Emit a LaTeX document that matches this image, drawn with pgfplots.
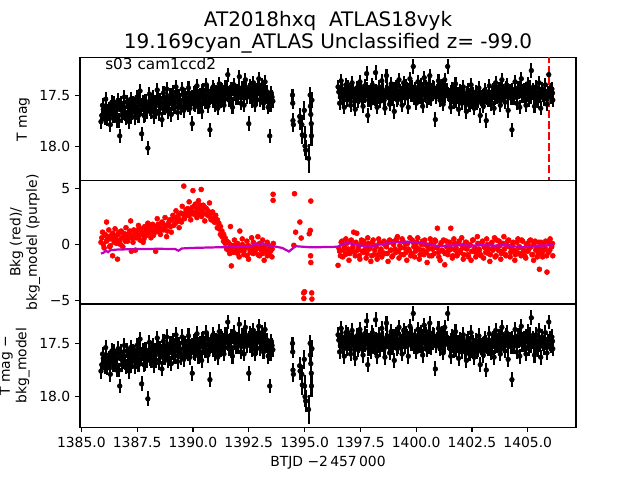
\documentclass[border=0pt]{standalone}
\usepackage{fontspec}
\setmainfont{DejaVu Sans}
\usepackage{pgfplots}
\usepackage{pgfplotstable}
\pgfplotsset{compat=1.18}

% light curve, T mag (segments before and after the gap)
\pgfplotstableread{
t m
1385.88 17.76
1385.95 17.60
1386.02 17.68
1386.09 17.54
1386.16 17.73
1386.23 17.64
1386.30 17.79
1386.37 17.57
1386.44 17.70
1386.51 17.62
1386.58 17.75
1386.65 17.55
1386.72 17.90
1386.79 17.58
1386.86 17.67
1386.93 17.52
1387.00 17.72
1387.07 17.61
1387.14 17.76
1387.21 17.54
1387.28 17.67
1387.35 17.59
1387.42 17.72
1387.49 17.52
1387.56 17.70
1387.63 17.46
1387.70 17.88
1387.77 17.57
1387.84 17.69
1387.91 17.60
1387.98 18.02
1388.05 17.49
1388.12 17.66
1388.19 17.52
1388.26 17.71
1388.33 17.58
1388.40 17.45
1388.47 17.68
1388.54 17.55
1388.61 17.74
1388.68 17.48
1388.75 17.63
1388.82 17.44
1388.89 17.66
1388.96 17.53
1389.03 17.69
1389.10 17.47
1389.17 17.62
1389.24 17.42
1389.31 17.67
1389.38 17.51
1389.45 17.60
1389.52 17.44
1389.59 17.65
1389.66 17.50
1389.73 17.58
1389.80 17.43
1389.87 17.63
1389.97 17.78
1390.04 17.48
1390.11 17.60
1390.18 17.41
1390.25 17.62
1390.32 17.50
1390.39 17.66
1390.46 17.45
1390.53 17.57
1390.60 17.40
1390.67 17.61
1390.76 17.84
1390.83 17.52
1390.90 17.42
1390.97 17.60
1391.04 17.47
1391.11 17.63
1391.18 17.39
1391.25 17.56
1391.32 17.45
1391.39 17.60
1391.46 17.42
1391.56 17.30
1391.63 17.55
1391.70 17.44
1391.77 17.62
1391.84 17.40
1391.91 17.53
1391.98 17.46
1392.08 17.32
1392.15 17.58
1392.22 17.43
1392.29 17.60
1392.35 17.35
1392.42 17.52
1392.50 17.78
1392.57 17.41
1392.64 17.56
1392.71 17.38
1392.78 17.60
1392.85 17.45
1392.95 17.34
1393.02 17.55
1393.09 17.40
1393.16 17.58
1393.23 17.37
1393.30 17.52
1393.37 17.62
1393.44 17.90
1393.51 17.48
1393.58 17.56
1396.50 17.42
1396.57 17.58
1396.64 17.36
1396.71 17.50
1396.78 17.62
1396.85 17.40
1396.92 17.55
1396.99 17.45
1397.06 17.60
1397.13 17.38
1397.20 17.52
1397.27 17.64
1397.34 17.43
1397.41 17.56
1397.48 17.37
1397.55 17.50
1397.62 17.61
1397.69 17.41
1397.78 17.29
1397.83 17.70
1397.90 17.47
1397.97 17.58
1398.04 17.40
1398.11 17.53
1398.18 17.28
1398.25 17.62
1398.32 17.44
1398.39 17.56
1398.46 17.36
1398.53 17.51
1398.60 17.63
1398.67 17.31
1398.74 17.48
1398.81 17.59
1398.88 17.39
1398.95 17.52
1399.02 17.66
1399.09 17.42
1399.16 17.55
1399.23 17.35
1399.30 17.49
1399.37 17.60
1399.44 17.38
1399.51 17.53
1399.58 17.44
1399.65 17.62
1399.72 17.34
1399.79 17.50
1399.87 17.22
1399.94 17.45
1400.01 17.58
1400.08 17.37
1400.15 17.52
1400.22 17.40
1400.29 17.61
1400.36 17.33
1400.43 17.48
1400.50 17.56
1400.57 17.39
1400.61 17.31
1400.68 17.54
1400.75 17.42
1400.86 17.74
1400.93 17.47
1401.00 17.36
1401.07 17.55
1401.14 17.41
1401.21 17.59
1401.28 17.35
1401.41 17.22
1401.48 17.50
1401.55 17.62
1401.62 17.44
1401.69 17.57
1401.76 17.39
1401.83 17.52
1401.90 17.64
1401.97 17.46
1402.04 17.58
1402.11 17.42
1402.18 17.55
1402.25 17.66
1402.32 17.45
1402.39 17.60
1402.46 17.40
1402.53 17.53
1402.60 17.63
1402.67 17.47
1402.74 17.58
1402.81 17.43
1402.87 17.70
1402.94 17.52
1403.01 17.61
1403.08 17.45
1403.14 17.75
1403.21 17.55
1403.28 17.41
1403.35 17.59
1403.42 17.48
1403.49 17.63
1403.56 17.38
1403.63 17.52
1403.70 17.44
1403.77 17.60
1403.84 17.35
1403.91 17.50
1403.98 17.57
1404.05 17.40
1404.12 17.65
1404.19 17.46
1404.29 17.84
1404.36 17.53
1404.43 17.37
1404.50 17.58
1404.57 17.43
1404.64 17.62
1404.71 17.34
1404.78 17.51
1404.85 17.45
1404.92 17.60
1404.99 17.39
1405.06 17.55
1405.16 17.26
1405.23 17.48
1405.30 17.61
1405.37 17.42
1405.44 17.56
1405.51 17.38
1405.58 17.63
1405.65 17.47
1405.72 17.54
1405.79 17.40
1405.86 17.59
1405.94 17.30
1406.01 17.50
1406.08 17.44
1406.12 17.55
}\lc

% the cadences in between (core of the band)
\pgfplotstableread[row sep=\\]{
t m\\
1385.915 17.70\\ 1385.985 17.64\\ 1386.055 17.72\\ 1386.125 17.61\\ 1386.195 17.66\\ 1386.265 17.73\\ 1386.335 17.62\\ 1386.405 17.68\\
1386.475 17.58\\ 1386.545 17.69\\ 1386.615 17.64\\ 1386.685 17.75\\ 1386.755 17.60\\ 1386.825 17.70\\ 1386.895 17.63\\ 1386.965 17.68\\
1387.035 17.57\\ 1387.105 17.67\\ 1387.175 17.62\\ 1387.245 17.71\\ 1387.315 17.58\\ 1387.385 17.65\\ 1387.455 17.61\\ 1387.525 17.68\\
1387.595 17.55\\ 1387.665 17.64\\ 1387.735 17.60\\ 1387.805 17.70\\ 1387.875 17.56\\ 1387.945 17.66\\ 1388.015 17.59\\ 1388.085 17.64\\
1388.155 17.55\\ 1388.225 17.62\\ 1388.295 17.57\\ 1388.365 17.66\\ 1388.435 17.53\\ 1388.505 17.61\\ 1388.575 17.58\\ 1388.645 17.63\\
1388.715 17.52\\ 1388.785 17.60\\ 1388.855 17.56\\ 1388.925 17.64\\ 1388.995 17.50\\ 1389.065 17.59\\ 1389.135 17.54\\ 1389.205 17.62\\
1389.275 17.51\\ 1389.345 17.58\\ 1389.415 17.55\\ 1389.485 17.63\\ 1389.555 17.49\\ 1389.625 17.57\\ 1389.695 17.53\\ 1389.765 17.60\\
1389.835 17.48\\ 1389.905 17.56\\ 1389.975 17.52\\ 1390.045 17.59\\ 1390.115 17.47\\ 1390.185 17.55\\ 1390.255 17.51\\ 1390.325 17.58\\
1390.395 17.46\\ 1390.465 17.54\\ 1390.535 17.50\\ 1390.605 17.57\\ 1390.675 17.46\\ 1390.745 17.53\\ 1390.815 17.49\\ 1390.885 17.56\\
1390.955 17.45\\ 1391.025 17.52\\ 1391.095 17.48\\ 1391.165 17.55\\ 1391.235 17.44\\ 1391.305 17.51\\ 1391.375 17.47\\ 1391.445 17.54\\
1391.515 17.43\\ 1391.585 17.50\\ 1391.655 17.47\\ 1391.725 17.54\\ 1391.795 17.44\\ 1391.865 17.49\\ 1391.935 17.46\\ 1392.005 17.53\\
1392.075 17.43\\ 1392.145 17.50\\ 1392.215 17.46\\ 1392.285 17.53\\ 1392.355 17.42\\ 1392.425 17.49\\ 1392.495 17.45\\ 1392.565 17.52\\
1392.635 17.43\\ 1392.705 17.50\\ 1392.775 17.46\\ 1392.845 17.54\\ 1392.915 17.42\\ 1392.985 17.49\\ 1393.055 17.45\\ 1393.125 17.52\\
1393.195 17.44\\ 1393.265 17.50\\ 1393.335 17.47\\ 1393.405 17.55\\ 1393.475 17.60\\ 1393.545 17.52\\
1396.535 17.47\\ 1396.605 17.52\\ 1396.675 17.44\\ 1396.745 17.55\\ 1396.815 17.46\\ 1396.885 17.50\\ 1396.955 17.42\\ 1397.025 17.53\\
1397.095 17.47\\ 1397.165 17.44\\ 1397.235 17.56\\ 1397.305 17.49\\ 1397.375 17.45\\ 1397.445 17.52\\ 1397.515 17.43\\ 1397.585 17.54\\
1397.655 17.48\\ 1397.725 17.51\\ 1397.795 17.44\\ 1397.865 17.55\\ 1397.935 17.47\\ 1398.005 17.50\\ 1398.075 17.43\\ 1398.145 17.54\\
1398.215 17.46\\ 1398.285 17.52\\ 1398.355 17.42\\ 1398.425 17.50\\ 1398.495 17.45\\ 1398.565 17.55\\ 1398.635 17.47\\ 1398.705 17.43\\
1398.775 17.52\\ 1398.845 17.46\\ 1398.915 17.54\\ 1398.985 17.44\\ 1399.055 17.49\\ 1399.125 17.42\\ 1399.195 17.53\\ 1399.265 17.46\\
1399.335 17.51\\ 1399.405 17.43\\ 1399.475 17.48\\ 1399.545 17.41\\ 1399.615 17.52\\ 1399.685 17.45\\ 1399.755 17.49\\ 1399.825 17.42\\
1399.895 17.53\\ 1399.965 17.44\\ 1400.035 17.50\\ 1400.105 17.42\\ 1400.175 17.47\\ 1400.245 17.54\\ 1400.315 17.44\\ 1400.385 17.50\\
1400.455 17.42\\ 1400.525 17.47\\ 1400.595 17.53\\ 1400.665 17.45\\ 1400.735 17.49\\ 1400.805 17.43\\ 1400.875 17.52\\ 1400.945 17.46\\
1401.015 17.50\\ 1401.085 17.43\\ 1401.155 17.48\\ 1401.225 17.42\\ 1401.295 17.51\\ 1401.365 17.45\\ 1401.435 17.49\\ 1401.505 17.54\\
1401.575 17.47\\ 1401.645 17.52\\ 1401.715 17.46\\ 1401.785 17.56\\ 1401.855 17.49\\ 1401.925 17.53\\ 1401.995 17.47\\ 1402.065 17.55\\
1402.135 17.50\\ 1402.205 17.58\\ 1402.275 17.48\\ 1402.345 17.54\\ 1402.415 17.51\\ 1402.485 17.57\\ 1402.555 17.49\\ 1402.625 17.55\\
1402.695 17.50\\ 1402.765 17.56\\ 1402.835 17.48\\ 1402.905 17.54\\ 1402.975 17.51\\ 1403.045 17.57\\ 1403.115 17.49\\ 1403.185 17.53\\
1403.255 17.47\\ 1403.325 17.55\\ 1403.395 17.50\\ 1403.465 17.45\\ 1403.535 17.53\\ 1403.605 17.47\\ 1403.675 17.51\\ 1403.745 17.44\\
1403.815 17.52\\ 1403.885 17.46\\ 1403.955 17.50\\ 1404.025 17.43\\ 1404.095 17.52\\ 1404.165 17.47\\ 1404.235 17.53\\ 1404.305 17.45\\
1404.375 17.50\\ 1404.445 17.44\\ 1404.515 17.52\\ 1404.585 17.47\\ 1404.655 17.43\\ 1404.725 17.51\\ 1404.795 17.46\\ 1404.865 17.53\\
1404.935 17.44\\ 1405.005 17.49\\ 1405.075 17.42\\ 1405.145 17.52\\ 1405.215 17.45\\ 1405.285 17.50\\ 1405.355 17.43\\ 1405.425 17.53\\
1405.495 17.47\\ 1405.565 17.51\\ 1405.635 17.44\\ 1405.705 17.50\\ 1405.775 17.46\\ 1405.845 17.54\\ 1405.915 17.48\\ 1405.985 17.45\\
1406.055 17.52\\ 1406.105 17.48\\
}\lcx

% short segment in the middle, larger errors
\pgfplotstableread{
t m e
1394.46 17.50 0.06
1394.47 17.58 0.06
1394.48 17.75 0.07
1394.50 17.79 0.07
1394.78 17.71 0.08
1394.80 17.76 0.08
1394.88 17.79 0.09
1394.90 17.89 0.09
1394.99 17.65 0.09
1395.00 17.90 0.10
1395.02 18.00 0.10
1395.05 18.04 0.10
1395.18 18.12 0.14
1395.25 17.50 0.08
1395.26 17.61 0.08
1395.28 17.69 0.08
1395.30 17.78 0.09
1395.31 17.90 0.10
1395.33 17.55 0.08
}\lcB

% background flux (red)
\pgfplotstableread{
t b
1385.88 0.2
1385.95 1.1
1386.02 -0.3
1386.09 0.8
1386.13 2.0
1386.16 0.4
1386.23 1.3
1386.30 -0.1
1386.37 0.9
1386.40 -1.0
1386.44 0.5
1386.51 1.4
1386.58 0.1
1386.62 -1.3
1386.65 0.9
1386.72 0.4
1386.79 1.2
1386.86 -0.2
1386.93 0.7
1387.00 1.5
1387.07 0.3
1387.14 1.0
1387.21 2.1
1387.24 -0.6
1387.28 0.6
1387.35 1.3
1387.42 -0.5
1387.49 0.9
1387.56 1.7
1387.63 0.4
1387.70 1.1
1387.77 0.2
1387.84 1.6
1387.91 0.8
1387.98 1.9
1388.05 1.2
1388.12 0.6
1388.19 1.8
1388.26 1.0
1388.33 -0.6
1388.40 2.3
1388.47 1.4
1388.54 0.9
1388.61 2.0
1388.68 1.3
1388.75 2.4
1388.82 0.7
1388.89 1.7
1388.96 2.2
1389.03 1.1
1389.10 2.6
1389.17 1.8
1389.24 3.0
1389.31 2.1
1389.38 1.5
1389.45 2.8
1389.52 3.4
1389.59 5.2
1389.62 2.3
1389.69 3.1
1389.76 2.6
1389.83 3.8
1389.90 2.2
1389.97 3.3
1390.00 4.8
1390.04 2.7
1390.11 3.6
1390.18 2.4
1390.25 3.9
1390.32 3.0
1390.37 4.9
1390.39 2.5
1390.46 3.5
1390.53 2.1
1390.60 3.2
1390.67 2.6
1390.74 3.7
1390.81 2.2
1390.88 2.9
1390.95 2.0
1391.02 2.6
1391.09 1.5
1391.16 1.9
1391.23 0.9
1391.30 1.2
1391.37 0.3
1391.44 0.6
1391.51 -0.4
1391.58 0.2
1391.65 -0.8
1391.68 1.6
1391.72 -1.9
1391.79 -0.1
1391.86 0.4
1391.93 -0.7
1392.00 0.1
1392.07 -1.1
1392.10 1.2
1392.14 -0.3
1392.21 0.5
1392.28 -0.9
1392.35 -0.2
1392.42 0.3
1392.49 -1.3
1392.56 -0.5
1392.63 0.6
1392.70 -0.8
1392.77 0.0
1392.84 -0.4
1392.91 0.7
1392.98 -1.0
1393.05 -0.2
1393.12 0.4
1393.19 -1.4
1393.26 -0.6
1393.33 0.2
1393.40 -0.9
1393.47 -0.3
1393.54 -1.1
1393.59 4.47
1393.59 3.93
1393.60 0.1
1394.52 -0.07
1394.55 4.52
1394.60 1.1
1394.79 2.0
1394.85 0.58
1394.96 -4.3
1394.97 -4.8
1395.00 -4.2
1395.21 0.96
1395.26 1.26
1395.27 -1.0
1395.28 -1.6
1395.28 3.87
1395.32 -4.3
1395.33 -4.85
1396.50 -1.85
1396.57 -0.6
1396.64 0.2
1396.71 -1.1
1396.78 -0.2
1396.85 0.5
1396.92 -0.8
1396.99 -1.4
1397.06 0.3
1397.13 -0.5
1397.20 1.1
1397.27 -1.0
1397.34 1.0
1397.41 -0.3
1397.48 -1.3
1397.55 0.4
1397.62 -0.7
1397.69 0.0
1397.76 -1.2
1397.83 0.6
1397.90 -0.4
1397.97 -1.5
1398.04 0.2
1398.11 -0.9
1398.18 -0.1
1398.25 -1.3
1398.32 0.5
1398.39 -0.6
1398.46 -1.1
1398.53 0.1
1398.60 -0.8
1398.67 -0.2
1398.74 -1.5
1398.81 0.4
1398.88 -0.5
1398.95 -1.0
1399.02 0.3
1399.09 -0.7
1399.16 0.7
1399.23 -1.2
1399.30 -0.3
1399.37 0.5
1399.44 -0.9
1399.51 0.1
1399.58 -1.4
1399.65 -0.4
1399.72 0.6
1399.79 -0.8
1399.86 0.2
1399.93 -1.1
1400.00 -0.2
1400.07 0.6
1400.14 -1.3
1400.21 -0.5
1400.28 0.3
1400.35 -0.9
1400.42 0.0
1400.49 -1.6
1400.56 -0.4
1400.63 0.5
1400.70 -1.0
1400.77 -0.1
1400.84 0.4
1400.95 1.45
1401.00 -0.7
1401.07 -1.4
1401.14 0.2
1401.21 -0.6
1401.28 -1.8
1401.35 0.3
1401.42 -0.9
1401.49 -0.2
1401.55 1.45
1401.62 -1.2
1401.69 0.5
1401.76 -0.5
1401.83 -1.0
1401.90 0.1
1401.97 -0.7
1402.04 0.6
1402.11 -1.3
1402.18 -0.3
1402.25 0.2
1402.32 -0.9
1402.39 -0.1
1402.46 -1.4
1402.53 0.4
1402.60 -0.6
1402.67 -1.1
1402.74 0.7
1402.81 -0.4
1402.88 -0.9
1402.95 0.2
1403.02 -1.2
1403.09 -0.3
1403.16 0.5
1403.23 -0.8
1403.30 -1.5
1403.37 0.1
1403.44 -0.5
1403.51 0.6
1403.58 -1.0
1403.65 -0.2
1403.72 0.3
1403.79 -1.3
1403.86 -0.6
1403.93 0.7
1404.00 -0.9
1404.07 -0.1
1404.14 0.4
1404.21 -1.1
1404.28 -0.4
1404.35 0.2
1404.42 -1.4
1404.49 -0.7
1404.56 0.5
1404.63 -0.2
1404.70 -1.0
1404.77 0.3
1404.84 -0.6
1404.91 -1.2
1404.98 0.1
1405.05 -0.4
1405.12 0.4
1405.19 -0.9
1405.26 -1.4
1405.33 0.3
1405.40 -0.3
1405.47 -0.8
1405.52 -2.2
1405.59 0.2
1405.66 -1.1
1405.73 -0.5
1405.80 0.3
1405.86 -2.45
1405.93 -0.7
1406.00 0.5
1406.07 -0.2
1406.12 -1.0
}\bkg

% background at the cadences in between
\pgfplotstableread[row sep=\\]{
t b\\
1385.915 0.6\\ 1385.985 0.0\\ 1386.055 0.9\\ 1386.125 0.3\\ 1386.195 0.7\\ 1386.265 -0.2\\ 1386.335 0.5\\ 1386.405 1.0\\
1386.475 0.2\\ 1386.545 0.8\\ 1386.615 0.4\\ 1386.685 1.1\\ 1386.755 0.0\\ 1386.825 0.6\\ 1386.895 1.0\\ 1386.965 0.3\\
1387.035 0.9\\ 1387.105 0.5\\ 1387.175 1.2\\ 1387.245 0.7\\ 1387.315 0.2\\ 1387.385 1.0\\ 1387.455 0.6\\ 1387.525 1.3\\
1387.595 0.8\\ 1387.665 1.4\\ 1387.735 0.9\\ 1387.805 0.5\\ 1387.875 1.2\\ 1387.945 1.5\\ 1388.015 1.0\\ 1388.085 1.7\\
1388.155 1.3\\ 1388.225 0.8\\ 1388.295 1.6\\ 1388.365 1.2\\ 1388.435 1.8\\ 1388.505 1.1\\ 1388.575 1.5\\ 1388.645 1.9\\
1388.715 1.4\\ 1388.785 1.7\\ 1388.855 1.2\\ 1388.925 2.0\\ 1388.995 1.6\\ 1389.065 2.2\\ 1389.135 1.7\\ 1389.205 2.4\\
1389.275 2.0\\ 1389.345 2.6\\ 1389.415 2.2\\ 1389.485 2.0\\ 1389.555 2.7\\ 1389.625 2.4\\ 1389.695 2.9\\ 1389.765 3.2\\
1389.835 2.6\\ 1389.905 3.0\\ 1389.975 2.8\\ 1390.045 3.4\\ 1390.115 2.9\\ 1390.185 3.2\\ 1390.255 2.7\\ 1390.325 3.5\\
1390.395 3.1\\ 1390.465 2.8\\ 1390.535 3.3\\ 1390.605 2.7\\ 1390.675 3.0\\ 1390.745 2.5\\ 1390.815 2.8\\ 1390.885 2.3\\
1390.955 2.4\\ 1391.025 2.0\\ 1391.095 2.2\\ 1391.165 1.4\\ 1391.235 1.6\\ 1391.305 0.7\\ 1391.375 0.9\\ 1391.445 0.1\\
1391.515 0.3\\ 1391.585 -0.5\\ 1391.655 0.0\\ 1391.725 -0.3\\ 1391.795 -0.7\\ 1391.865 -0.1\\ 1391.935 -0.4\\ 1392.005 -0.8\\
1392.075 -0.2\\ 1392.145 -0.5\\ 1392.215 0.0\\ 1392.285 -0.6\\ 1392.355 -0.3\\ 1392.425 -1.0\\ 1392.495 -0.1\\ 1392.565 -0.7\\
1392.635 -0.3\\ 1392.705 0.2\\ 1392.775 -0.6\\ 1392.845 -0.2\\ 1392.915 -0.9\\ 1392.985 0.1\\ 1393.055 -0.5\\ 1393.125 -0.8\\
1393.195 -0.2\\ 1393.265 -0.5\\ 1393.335 -1.0\\ 1393.405 -0.1\\ 1393.475 -0.6\\ 1393.545 -0.4\\
1396.535 -0.3\\ 1396.605 -1.0\\ 1396.675 0.3\\ 1396.745 -0.5\\ 1396.815 -0.9\\ 1396.885 0.1\\ 1396.955 -0.4\\ 1397.025 -0.8\\
1397.095 0.4\\ 1397.165 -0.2\\ 1397.235 -0.7\\ 1397.305 0.2\\ 1397.375 -0.5\\ 1397.445 -1.0\\ 1397.515 0.0\\ 1397.585 -0.6\\
1397.655 0.3\\ 1397.725 -0.4\\ 1397.795 -0.8\\ 1397.865 0.1\\ 1397.935 -0.3\\ 1398.005 -1.0\\ 1398.075 0.4\\ 1398.145 -0.5\\
1398.215 -0.2\\ 1398.285 -0.9\\ 1398.355 0.2\\ 1398.425 -0.4\\ 1398.495 -0.7\\ 1398.565 0.3\\ 1398.635 -0.1\\ 1398.705 -0.8\\
1398.775 0.2\\ 1398.845 -0.5\\ 1398.915 -1.1\\ 1398.985 0.0\\ 1399.055 -0.4\\ 1399.125 0.5\\ 1399.195 -0.6\\ 1399.265 -0.1\\
1399.335 -0.9\\ 1399.405 0.3\\ 1399.475 -0.3\\ 1399.545 -0.7\\ 1399.615 0.1\\ 1399.685 -0.5\\ 1399.755 -1.0\\ 1399.825 0.4\\
1399.895 -0.2\\ 1399.965 -0.6\\ 1400.035 0.2\\ 1400.105 -0.4\\ 1400.175 -0.9\\ 1400.245 0.0\\ 1400.315 -0.5\\ 1400.385 0.4\\
1400.455 -0.7\\ 1400.525 -0.2\\ 1400.595 -1.0\\ 1400.665 0.1\\ 1400.735 -0.4\\ 1400.805 -0.8\\ 1400.875 0.3\\ 1400.945 -0.3\\
1401.015 -1.1\\ 1401.085 0.0\\ 1401.155 -0.5\\ 1401.225 0.4\\ 1401.295 -0.8\\ 1401.365 -0.2\\ 1401.435 -0.6\\ 1401.505 0.2\\
1401.575 -0.4\\ 1401.645 -1.0\\ 1401.715 0.1\\ 1401.785 -0.3\\ 1401.855 -0.8\\ 1401.925 0.3\\ 1401.995 -0.5\\ 1402.065 -0.1\\
1402.135 -0.9\\ 1402.205 0.2\\ 1402.275 -0.4\\ 1402.345 -1.1\\ 1402.415 0.0\\ 1402.485 -0.6\\ 1402.555 0.4\\ 1402.625 -0.3\\
1402.695 -0.8\\ 1402.765 0.1\\ 1402.835 -0.5\\ 1402.905 -1.0\\ 1402.975 0.3\\ 1403.045 -0.2\\ 1403.115 -0.7\\ 1403.185 0.0\\
1403.255 -0.4\\ 1403.325 -0.9\\ 1403.395 0.2\\ 1403.465 -0.3\\ 1403.535 -1.1\\ 1403.605 0.4\\ 1403.675 -0.5\\ 1403.745 -0.1\\
1403.815 -0.8\\ 1403.885 0.1\\ 1403.955 -0.4\\ 1404.025 -1.0\\ 1404.095 0.3\\ 1404.165 -0.2\\ 1404.235 -0.7\\ 1404.305 0.0\\
1404.375 -0.5\\ 1404.445 -0.9\\ 1404.515 0.2\\ 1404.585 -0.3\\ 1404.655 -0.8\\ 1404.725 0.4\\ 1404.795 -0.4\\ 1404.865 -1.0\\
1404.935 0.0\\ 1405.005 -0.6\\ 1405.075 0.3\\ 1405.145 -0.2\\ 1405.215 -0.9\\ 1405.285 0.1\\ 1405.355 -0.5\\ 1405.425 -1.1\\
1405.495 0.2\\ 1405.565 -0.4\\ 1405.635 -0.8\\ 1405.705 0.0\\ 1405.775 -0.3\\ 1405.845 -1.0\\ 1405.915 0.2\\ 1405.985 -0.5\\
1406.055 -0.2\\ 1406.105 0.1\\
}\bkgx

% background model (purple)
\pgfplotstableread{
t b
1385.88 -0.80
1386.00 -0.72
1386.10 -0.55
1386.20 -0.68
1386.30 -0.50
1386.60 -0.45
1387.50 -0.40
1388.50 -0.38
1389.20 -0.40
1389.35 -0.55
1389.50 -0.35
1390.00 -0.30
1391.00 -0.25
1392.00 -0.22
1392.60 -0.15
1392.80 0.10
1392.95 -0.05
1393.10 0.15
1393.25 -0.05
1393.60 -0.15
1394.00 -0.30
1394.30 -0.62
1394.50 -0.30
1394.60 -0.15
1395.30 -0.25
1396.50 -0.20
1396.70 0.05
1396.90 0.12
1397.20 0.05
1397.50 -0.10
1398.00 -0.15
1398.50 0.05
1399.00 0.20
1399.50 0.25
1400.00 0.22
1400.50 0.05
1401.00 -0.15
1401.50 -0.10
1402.00 -0.05
1402.50 -0.10
1403.00 -0.05
1403.50 -0.10
1404.00 -0.05
1404.70 -0.25
1405.20 -0.15
1405.60 -0.10
1406.12 -0.05
}\model

\definecolor{bkgpurple}{rgb}{0.75,0,0.75}

\pgfplotsset{
  panel/.style={
    width=357.12pt, height=88.704pt, scale only axis,
    anchor=north west,
    xmin=1384.94, xmax=1407.16,
    axis line style={line width=0.8pt},
    tick align=outside, major tick length=3.5pt,
    every tick/.style={black, line width=0.8pt},
    xtick pos=left, ytick pos=left,
    tick label style={font=\fontsize{10}{12}\selectfont},
    label style={font=\fontsize{10}{12}\selectfont},
    ylabel style={align=center},
    /pgf/number format/assume math mode=true,
  },
  lcplot/.style={black, only marks, mark=*, mark size=1.7pt},
}

\begin{document}
\begin{tikzpicture}
\path[use as bounding box] (-57.6pt,41.472pt) rectangle (403.2pt,-304.128pt);

\begin{axis}[panel, at={(0pt,0pt)},
    y dir=reverse, ymin=17.133, ymax=18.34,
    ytick={17.5,18}, yticklabels={17.5,18.0},
    xtick=\empty, ylabel={T mag}]
\addplot[lcplot, error bars/.cd, y dir=both, y fixed=0.07,
    error mark=none, error bar style={line width=1.5pt}] table[x=t, y=m] {\lc};
\addplot[lcplot, error bars/.cd, y dir=both, y fixed=0.07,
    error mark=none, error bar style={line width=1.5pt}] table[x=t, y=m] {\lcx};
\addplot[lcplot, error bars/.cd, y dir=both, y explicit,
    error mark=none, error bar style={line width=1.5pt}] table[x=t, y=m, y error=e] {\lcB};
\addplot[red, line width=1.5pt, dash pattern=on 5.55pt off 2.4pt] coordinates {(1405.93,17.0) (1405.93,18.5)};
\end{axis}

\begin{axis}[panel, at={(0pt,-88.704pt)},
    ymin=-5.29, ymax=5.67,
    ytick={-5,0,5}, yticklabels={−5,0,5},
    xtick=\empty, ylabel={Bkg (red)/\\bkg\_model (purple)}]
\addplot[red, only marks, mark=*, mark size=1.8pt] table[x=t, y=b] {\bkg};
\addplot[red, only marks, mark=*, mark size=1.8pt] table[x=t, y=b] {\bkgx};
\end{axis}
% model line drawn in an overlaid axis so that it lies on top of the markers
\begin{axis}[panel, at={(0pt,-88.704pt)},
    ymin=-5.29, ymax=5.67, hide axis]
\addplot[bkgpurple, line width=1.6pt] table[x=t, y=b] {\model};
\end{axis}

\begin{axis}[panel, at={(0pt,-177.408pt)},
    y dir=reverse, ymin=17.131, ymax=18.286,
    ytick={17.5,18}, yticklabels={17.5,18.0},
    xtick={1385,1387.5,1390,1392.5,1395,1397.5,1400,1402.5,1405},
    xticklabels={1385.0,1387.5,1390.0,1392.5,1395.0,1397.5,1400.0,1402.5,1405.0},
    ylabel={T mag −\\bkg\_model}]
\addplot[lcplot, error bars/.cd, y dir=both, y fixed=0.07,
    error mark=none, error bar style={line width=1.5pt}] table[x=t, y=m] {\lc};
\addplot[lcplot, error bars/.cd, y dir=both, y fixed=0.07,
    error mark=none, error bar style={line width=1.5pt}] table[x=t, y=m] {\lcx};
\addplot[lcplot, error bars/.cd, y dir=both, y explicit,
    error mark=none, error bar style={line width=1.5pt}] table[x=t, y=m, y error=e] {\lcB};
\end{axis}

\node[anchor=base, font=\fontsize{14.4}{17}\selectfont] at (178.56pt,22.2pt) {AT2018hxq\ \ ATLAS18vyk};
\node[anchor=base, font=\fontsize{14.4}{17}\selectfont] at (178.56pt,6.7pt) {19.169cyan\_ATLAS Unclassified z= -99.0};
\node[anchor=base west, inner sep=0pt, font=\fontsize{11}{13}\selectfont] at (18pt,-8.9pt) {s03 cam1ccd2};
\node[anchor=base, font=\fontsize{10}{12}\selectfont] at (178.56pt,-294.5pt) {BTJD −2\,457\,000};
\end{tikzpicture}
\end{document}
